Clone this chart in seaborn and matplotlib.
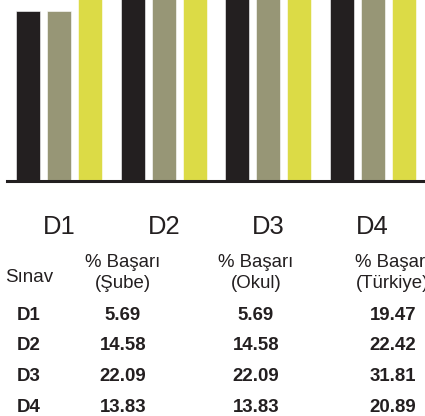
import matplotlib
matplotlib.use("Agg")
import matplotlib.pyplot as plt
import seaborn as sns
import pandas as pd

# Exam results: success percentage at class, school and national level
exams = ["D1", "D2", "D3", "D4"]
sube = [5.69, 14.58, 22.09, 13.83]
okul = [5.69, 14.58, 22.09, 13.83]
turkiye = [19.47, 22.42, 31.81, 20.89]

series_names = ["Şube", "Okul", "Türkiye"]
series_values = [sube, okul, turkiye]
colors = ["#231f20", "#979676", "#dcdb46"]

header_top = ["% Başarı", "% Başarı", "% Başarı"]
header_bottom = ["(Şube)", "(Okul)", "(Türkiye)"]

rows = []
for name, vals in zip(series_names, series_values):
    for ex, v in zip(exams, vals):
        rows.append({"Sınav": ex, "Seviye": name, "Başarı": v})
df = pd.DataFrame(rows)

sns.set_style("white")
plt.rcParams["font.family"] = ["Liberation Sans", "DejaVu Sans"]

W, H = 425, 416
fig = plt.figure(figsize=(W / 100, H / 100), dpi=100)
ax = fig.add_axes([7 / W, 1 - 181.5 / H, 418 / W, 181.5 / H])

sns.barplot(data=df, x="Sınav", y="Başarı", hue="Seviye", palette=colors,
            saturation=1, width=0.89, gap=0.23, legend=False, ax=ax,
            edgecolor="white", linewidth=0.4, errorbar=None)

ax.set_xlim(-0.5, 3.5)
ax.set_ylim(0, 6.05)
ax.set_xlabel("")
ax.set_ylabel("")
ax.set_yticks([])
sns.despine(ax=ax, left=True)
ax.spines["bottom"].set_linewidth(2.2)
ax.spines["bottom"].set_color("#231f20")
ax.tick_params(axis="x", direction="out", length=8.3, width=1.2,
               color="#231f20", pad=15.5, labelsize=18.4,
               labelcolor="#231f20")

dark = "#231f20"


def put(x, y, s, **kw):
    fig.text(x / W, 1 - y / H, s, color=dark, va="baseline", **kw)


# Table below the chart
col_x = [123, 256, 393]
put(29, 281.5, "Sınav", ha="center", fontsize=13.5)
for cx, t1, t2 in zip(col_x, header_top, header_bottom):
    put(cx, 266.7, t1, ha="center", fontsize=13.4)
    put(cx, 287.5, t2, ha="center", fontsize=13.4)

row_y = [320, 350.5, 381, 411.5]
for i, ex in enumerate(exams):
    put(16.5, row_y[i], ex, ha="left", fontsize=13.4, fontweight="bold")
    for cx, vals in zip(col_x, series_values):
        put(cx, row_y[i], f"{vals[i]:.2f}", ha="center", fontsize=13.4,
            fontweight="bold")

fig.savefig("out.png", dpi=100)
